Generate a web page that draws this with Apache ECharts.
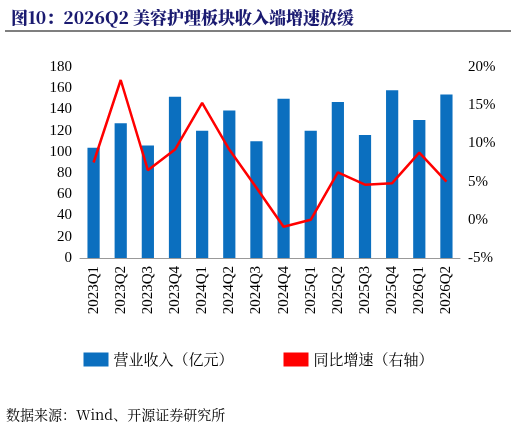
<!DOCTYPE html><html><head><meta charset="utf-8">
<script src="https://cdn.jsdelivr.net/npm/echarts@6/dist/echarts.min.js"></script>
<style>body{margin:0}#c{width:517px;height:436px}</style></head><body><div id="c"></div><script>
const categories=['2023Q1','2023Q2','2023Q3','2023Q4','2024Q1','2024Q2','2024Q3','2024Q4','2025Q1','2025Q2','2025Q3','2025Q4','2026Q1','2026Q2'];
const revenue=[104,127,106,152,120,139,110,150,120,147,116,158,130,154];
const growth=[7.5,18.3,6.5,9.2,15.3,9.2,4.2,-0.9,0.0,6.2,4.6,4.8,8.8,5.0];
const ch=echarts.init(document.getElementById('c'));
const ff='"Noto Serif CJK SC","Noto Sans CJK SC","Liberation Serif",serif';
ch.setOption({
 animation:false,
 title:{text:'图10：2026Q2 美容护理板块收入端增速放缓',left:6,top:4,textStyle:{fontFamily:ff,fontSize:17,fontWeight:900,color:'#1a1a70'}},
 graphic:[{type:'line',shape:{x1:5,y1:31,x2:511,y2:31},style:{stroke:'#555',lineWidth:1.5}},
  {type:'text',left:6,top:408,style:{text:'数据来源：Wind、开源证券研究所',font:'14px '+ff,fill:'#000'}}],
 legend:{bottom:64,itemGap:50,textStyle:{fontFamily:ff,fontSize:15,color:'#000'},
  data:[{name:'营业收入（亿元）',icon:'rect',itemWidth:40,itemHeight:10},
        {name:'同比增速（右轴）',icon:'rect',itemWidth:40,itemHeight:3}]},
 grid:{left:80,right:57,top:67,bottom:178},
 xAxis:{type:'category',data:categories,axisTick:{show:false},axisLine:{lineStyle:{color:'#999'}},
  axisLabel:{rotate:90,fontSize:15,color:'#000',fontFamily:'Liberation Serif',interval:0}},
 yAxis:[{type:'value',min:0,max:180,interval:20,splitLine:{show:false},axisLine:{show:false},axisTick:{show:false},
   axisLabel:{fontSize:15,color:'#000',fontFamily:'Liberation Serif'}},
  {type:'value',min:-5,max:20,interval:5,splitLine:{show:false},axisLine:{show:false},axisTick:{show:false},
   axisLabel:{fontSize:15,color:'#000',fontFamily:'Liberation Serif',formatter:'{value}%'}}],
 series:[{name:'营业收入（亿元）',type:'bar',data:revenue,barWidth:'45%',itemStyle:{color:'#0b6fbf'}},
  {name:'同比增速（右轴）',type:'line',yAxisIndex:1,data:growth,symbol:'none',lineStyle:{color:'#ff0000',width:2.5},itemStyle:{color:'#ff0000'}}]
});
</script></body></html>
